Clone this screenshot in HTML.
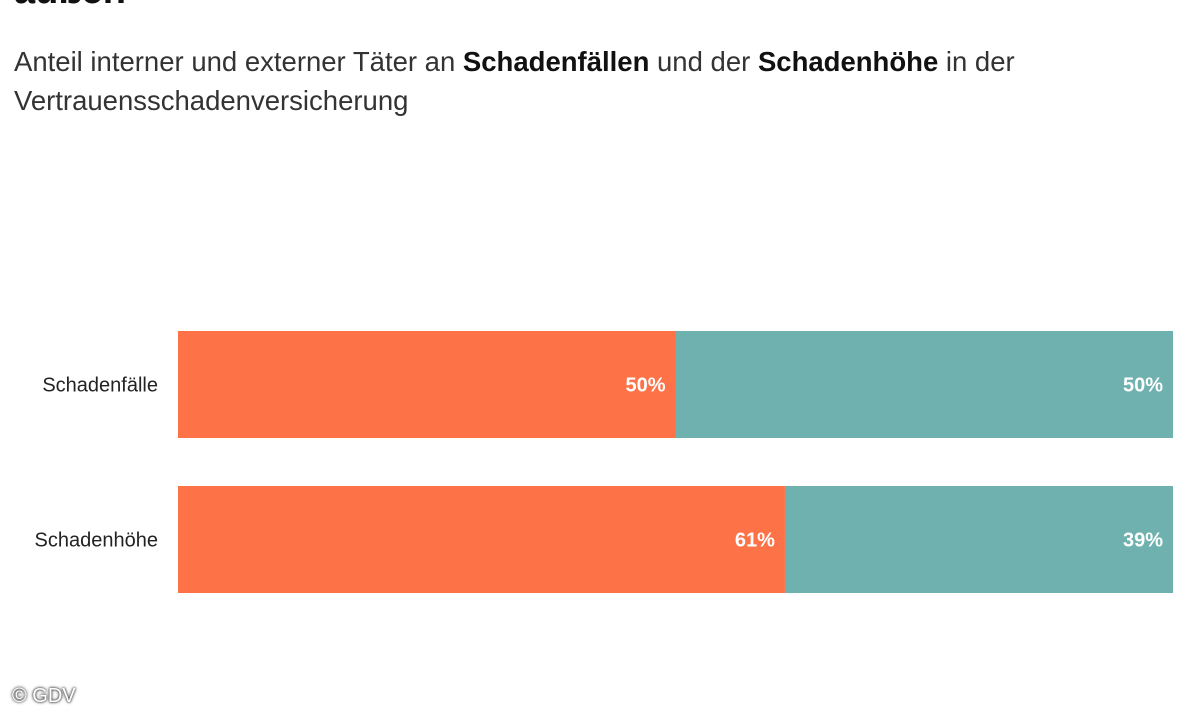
<!DOCTYPE html>
<html><head><meta charset="utf-8"><style>
body{margin:0;width:1200px;height:720px;overflow:hidden;background:#fff;font-family:"Liberation Sans",sans-serif;position:relative}
.title{position:absolute;left:14px;top:-30px;font-size:38px;font-weight:bold;color:#111}
.sub{position:absolute;left:14px;top:42px;font-size:27.5px;line-height:39px;color:#333;width:1180px}
.sub b{color:#111}
.copy{position:absolute;left:12px;top:685px;font-size:20px;color:#fff;text-shadow:0 0 3px #333,0 0 2px #333}
</style></head><body>
<div class="title">außen</div>
<div class="sub">Anteil interner und externer Täter an <b>Schadenfällen</b> und der <b>Schadenhöhe</b> in der Vertrauensschadenversicherung</div>
<svg id="chart" width="1200" height="720" style="position:absolute;left:0;top:0"></svg>
<div class="copy">© GDV</div>
<script>
const categories=["Schadenfälle","Schadenhöhe"];
const internal=[50,61];
const external=[50,39];
const colors=["#fd7247","#6fb1ae"];
const svg=document.getElementById('chart');
const NS="http://www.w3.org/2000/svg";
const x0=178,x1=1173;
const xs=v=>x0+(x1-x0)*v/100;
const rowTop=[331,486],bh=107;
function mk(t,a){const e=document.createElementNS(NS,t);for(const k in a)e.setAttribute(k,a[k]);svg.appendChild(e);return e;}
categories.forEach((c,i)=>{
  const y=rowTop[0]+i*(rowTop[1]-rowTop[0]);
  const lab=mk('text',{x:158,y:y+bh/2+7,'text-anchor':'end','font-size':20,fill:'#222'});
  
  
  lab.textContent=c;
  const tot=internal[i]+external[i];
  const a=internal[i]/tot*100;
  const r1=mk('rect',{x:x0,y:y,width:xs(a)-x0,height:bh,fill:colors[0]});
  
  
  const r2=mk('rect',{x:xs(a),y:y,width:x1-xs(a),height:bh,fill:colors[1]});
  
  
  const t1=mk('text',{x:xs(a)-10,y:y+bh/2+7,'text-anchor':'end','font-size':20,'font-weight':'bold',fill:'#fff'});
  
  
  t1.textContent=internal[i]+'%';
  const t2=mk('text',{x:x1-10,y:y+bh/2+7,'text-anchor':'end','font-size':20,'font-weight':'bold',fill:'#fff'});
  
  
  t2.textContent=external[i]+'%';
});
</script>
</body></html>
